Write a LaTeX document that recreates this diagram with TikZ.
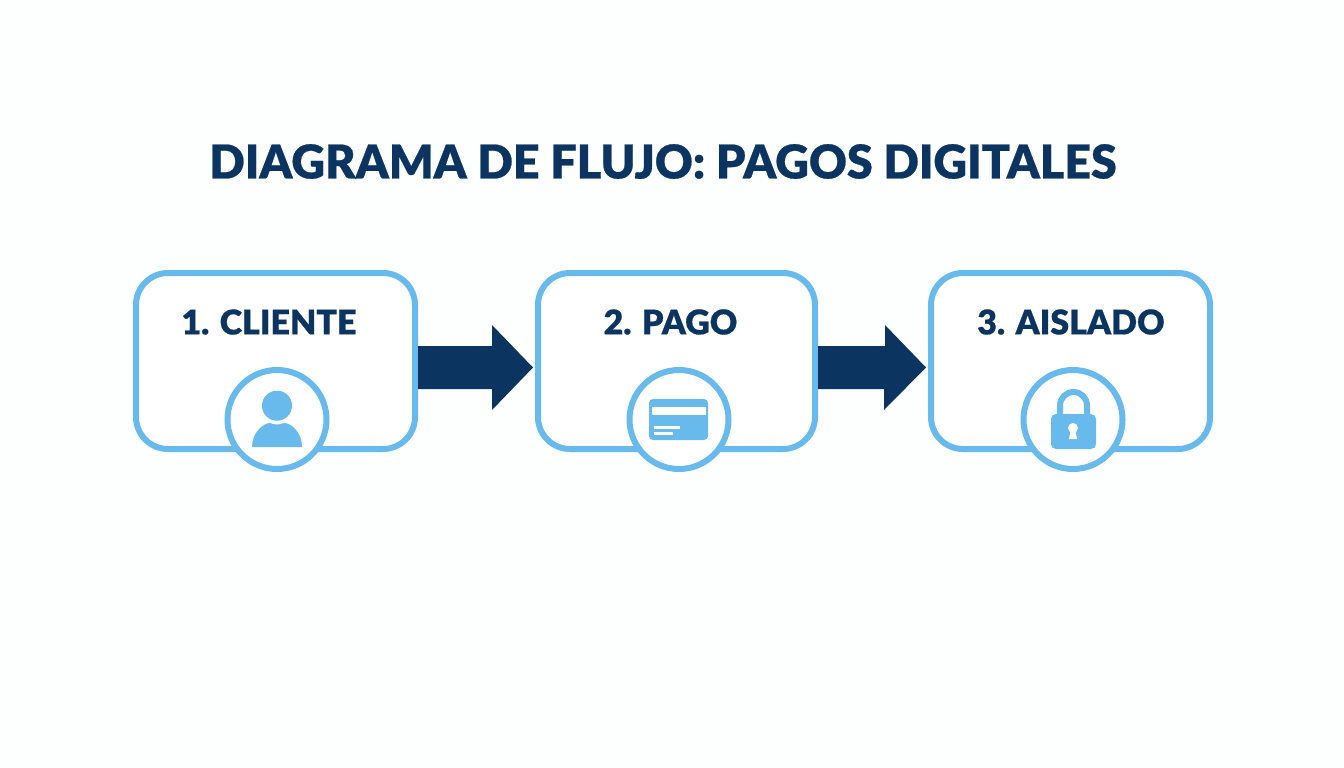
\documentclass[tikz,border=0pt]{standalone}
\usepackage{fontspec}
\setmainfont{Lato}
\newfontfamily\heavy[FakeBold=0.5]{Lato Black}
\definecolor{navy}{HTML}{0B3560}
\definecolor{sky}{HTML}{67BAEB}
\definecolor{paper}{HTML}{FDFEFE}
\tikzset{
  stepbox/.style={draw=sky,line width=6pt,fill=white,rounded corners=32pt,minimum width=279pt,minimum height=176pt,inner sep=0pt},
  badge/.style={circle,draw=sky,line width=6pt,fill=white,minimum size=99pt,inner sep=0pt},
  steplabel/.style={text=navy,font=\fontsize{34}{36}\selectfont\heavy,inner sep=0pt},
  flowarrow/.style={fill=navy,draw=none},
  icon/.style={fill=sky,draw=none}
}
\begin{document}
\begin{tikzpicture}[x=1pt,y=-1pt]
\useasboundingbox (0,0) rectangle (1344,768);
\fill[paper] (0,0) rectangle (1344,768);
\node[text=navy,font=\fontsize{46.6}{50}\selectfont\heavy,inner sep=0pt] (title) at (663,161.5) {DIAGRAMA DE FLUJO: PAGOS DIGITALES};
\node[stepbox] (b1) at (275.5,361) {};
\node[stepbox,minimum width=277pt] (b2) at (676.5,361) {};
\node[stepbox] (b3) at (1070.5,361) {};
\node[steplabel] (t1) at (269,322) {1. CLIENTE};
\node[steplabel] (t2) at (670.5,322) {2. PAGO};
\node[steplabel] (t3) at (1071,322) {3. AISLADO};
\node[badge] (c1) at (277,419.5) {};
\node[badge] (c2) at (679,419.5) {};
\node[badge] (c3) at (1073,419.5) {};
% arrows
\fill[flowarrow] ([yshift=15pt]b1.east) -- ++(74,0) -- ++(0,-21) -- ([xshift=-2pt,yshift=-6.5pt]b2.west) -- ++(-41,42.5) -- ++(0,-21) -- ([yshift=-28pt]b1.east) -- cycle;
\fill[flowarrow] ([yshift=15pt]b2.east) -- ++(67,0) -- ++(0,-21) -- ([xshift=-2pt,yshift=-6.5pt]b3.west) -- ++(-42,42.5) -- ++(0,-21) -- ([yshift=-28pt]b2.east) -- cycle;
% person
\fill[icon] (277,405.7) circle (15);
\fill[icon] (252,447) .. controls (252,432) and (264,423) .. (270,423) .. controls (274,425) and (280,425) .. (284,423) .. controls (291,423) and (302,432) .. (302,447) -- cycle;
% card
\fill[icon,rounded corners=4pt] (649,399) rectangle (708,440);
\fill[white] (652,407) rectangle (706,415);
\fill[white] (654,426) rectangle (680,428.5);
\fill[white] (654,432) rectangle (673,434.5);
% lock
\draw[sky,line width=6pt] (1060,418) -- (1060,405.5) arc[start angle=180,end angle=360,radius=13.5] -- (1087,418);
\fill[icon,rounded corners=5pt] (1051,414) rectangle (1096,449);
\fill[white] (1073,428) circle (5);
\fill[white] (1071,428) -- (1075,428) -- (1077,439) -- (1069,439) -- cycle;
\end{tikzpicture}
\end{document}
